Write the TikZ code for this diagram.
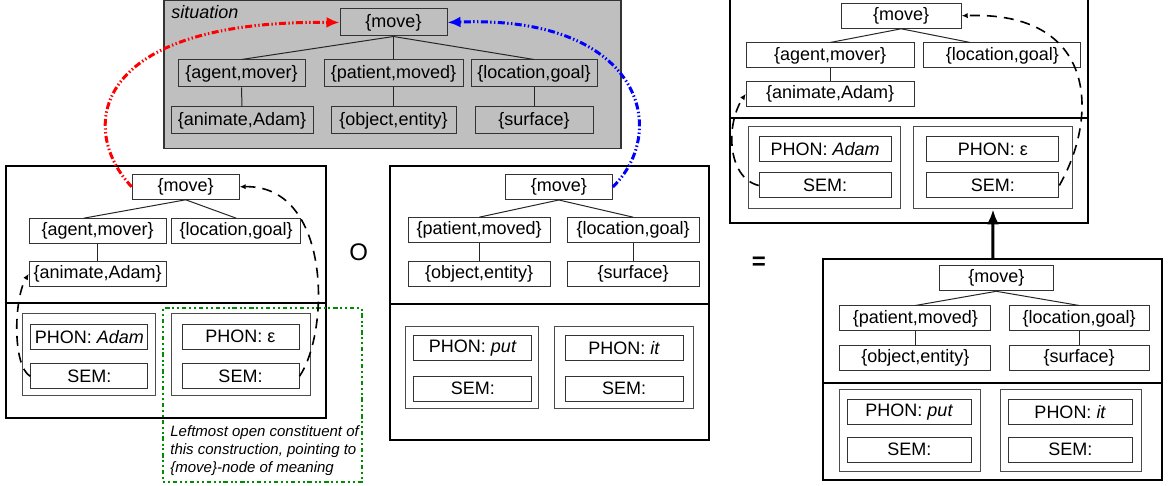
\documentclass[tikz,border=0pt]{standalone}
\usepackage{fontspec}
\setmainfont{Liberation Sans}
\usetikzlibrary{arrows.meta}

\newcommand{\featsize}{\fontsize{9}{10.5}\selectfont}

\begin{document}
\begin{tikzpicture}[x = 0.5pt, y = -0.5pt, font = \featsize,
	feat/.style = {draw = black!80, fill = white, line width = 0.5pt, inner sep = 0pt,
		minimum width = #1*0.5pt, minimum height = 12.5pt},
	sfeat/.style = {feat = #1, fill = none, minimum height = 13.5pt},
	cont/.style = {draw = black!70, line width = 0.5pt, inner sep = 0pt,
		minimum width = #1*0.5pt, minimum height = 41pt},
	cxn/.style 2 args = {draw, line width = 1pt, inner sep = 0pt,
		minimum width = #1*0.5pt, minimum height = #2*0.5pt},
	tree/.style = {black!85, line width = 0.5pt},
	link/.style = {line width = 0.8pt, dash pattern = on 5pt off 3.5pt,
		-{Latex[length = 3pt, width = 2.6pt]}},
	bind/.style = {line width = 1.5pt,
		dash pattern = on 3.5pt off 1.2pt on 0.7pt off 1.2pt on 0.7pt off 1.2pt,
		-{Latex[length = 6.5pt, width = 5.5pt]}}]

	\useasboundingbox (0, 0) rectangle (1168, 486);

	% Situation (meaning)

	\node (sit) [cxn = {457}{148}, draw = black!80, line width = 0.8pt, fill = black!25] at (392.5, 74.5) {};
	\node (sitlabel) [anchor = west, inner sep = 0pt, font = \featsize\itshape] at (171, 12) {situation};

	\node (smove) [sfeat = 107] at (393.5, 22.5) {\{move\}};
	\node (sagent) [sfeat = 127] at (241.5, 73.5) {\{agent,mover\}};
	\node (spatient) [sfeat = 139] at (393.5, 73.5) {\{patient,moved\}};
	\node (sloc) [sfeat = 126] at (534, 73.5) {\{location,goal\}};
	\node (sanimate) [sfeat = 142] at (242, 120.5) {\{animate,Adam\}};
	\node (sobject) [sfeat = 125] at (393.5, 120.5) {\{object,entity\}};
	\node (ssurface) [sfeat = 118] at (534, 120.5) {\{surface\}};

	\begin{scope}[tree]
		\draw (smove.south) -- (sagent.north);
		\draw (smove.south) -- (spatient.north);
		\draw (smove.south) -- (sloc.north);
		\draw (sagent.south) -- (sanimate.north);
		\draw (spatient.south) -- (sobject.north);
		\draw (sloc.south) -- (ssurface.north);
	\end{scope}

	% Construction "Adam"

	\node (lcxn) [cxn = {319.7}{252.6}] at (165.8, 292) {};
	\coordinate (ldiv) at (0, 302.7);
	\draw [line width = 1pt] (lcxn.west |- ldiv) -- (lcxn.east |- ldiv);

	\node (lmove) [feat = 107] at (185.7, 186.8) {\{move\}};
	\node (lagent) [feat = 137] at (97.7, 231.2) {\{agent,mover\}};
	\node (lloc) [feat = 129] at (236.2, 231.2) {\{location,goal\}};
	\node (lanimate) [feat = 137] at (97.7, 273.8) {\{animate,Adam\}};

	\node (lcont1) [cont = 133] at (88.7, 354.5) {};
	\node (lphon1) [feat = 117] at (89.3, 336.7) {PHON: \textit{Adam}};
	\node (lsem1) [feat = 117] at (89.3, 376.3) {SEM:};
	\node (lcont2) [cont = 139] at (240.5, 354.5) {};
	\node (lphon2) [feat = 117] at (240.5, 336.7) {PHON: ε};
	\node (lsem2) [feat = 117] at (240.5, 376.3) {SEM:};

	\begin{scope}[tree]
		\draw (lmove.south) -- ([xshift = -7pt] lagent.north);
		\draw (lmove.south) -- (lloc.north);
		\draw (lagent.south) -- (lanimate.north);
	\end{scope}

	% Construction "put it"

	\node (mcxn) [cxn = {319.3}{274.3}] at (549.7, 302.8) {};
	\coordinate (mdiv) at (0, 304);
	\draw [line width = 1pt] (mcxn.west |- mdiv) -- (mcxn.east |- mdiv);

	\node (mmove) [feat = 107] at (558.8, 187) {\{move\}};
	\node (mpatient) [feat = 142] at (479.2, 230.2) {\{patient,moved\}};
	\node (mloc) [feat = 132] at (633.2, 230.2) {\{location,goal\}};
	\node (mobject) [feat = 142] at (479.2, 274.2) {\{object,entity\}};
	\node (msurface) [feat = 132] at (633.2, 274.2) {\{surface\}};

	\node (mcont1) [cont = 133] at (472.3, 367.8) {};
	\node (mphon1) [feat = 118] at (472.8, 347.7) {PHON: \textit{put}};
	\node (msem1) [feat = 118] at (472.8, 388.7) {SEM:};
	\node (mcont2) [cont = 139] at (624.3, 367.8) {};
	\node (mphon2) [feat = 118] at (624.2, 347.7) {PHON: \textit{it}};
	\node (msem2) [feat = 118] at (624.2, 388.7) {SEM:};

	\begin{scope}[tree]
		\draw (mmove.south) -- (mpatient.north);
		\draw (mmove.south) -- (mloc.north);
		\draw (mpatient.south) -- (mobject.north);
		\draw (mloc.south) -- (msurface.north);
	\end{scope}

	% Operators

	\node (op) at (358.7, 252) {\fontsize{12}{14}\selectfont O};
	\node (eq) at (759, 263.5) {\fontsize{12}{14}\selectfont\bfseries =};

	% Result: "Adam" on top

	\node (rcxn) [cxn = {358.3}{240}] at (909.2, 103.3) {};
	\coordinate (rdiv) at (0, 118.3);
	\draw [line width = 1pt] (rcxn.west |- rdiv) -- (rcxn.east |- rdiv);

	\node (rmove) [feat = 120] at (901.2, 15.8) {\{move\}};
	\node (ragent) [feat = 168] at (830.2, 55.5) {\{agent,mover\}};
	\node (rloc) [feat = 157] at (1002.3, 55.5) {\{location,goal\}};
	\node (ranimate) [feat = 168] at (830.2, 93.8) {\{animate,Adam\}};

	\node (rcont1) [cont = 152] at (824.3, 167.8) {};
	\node (rphon1) [feat = 132] at (825.2, 149.5) {PHON: \textit{Adam}};
	\node (rsem1) [feat = 132] at (825.2, 185.5) {SEM:};
	\node (rcont2) [cont = 159] at (993, 167.8) {};
	\node (rphon2) [feat = 132] at (992.8, 149.5) {PHON: ε};
	\node (rsem2) [feat = 132] at (992.8, 185.5) {SEM:};

	\begin{scope}[tree]
		\draw (rmove.south) -- (ragent.north);
		\draw (rmove.south) -- ([xshift = -16pt] rloc.north);
		\draw (ragent.south) -- (ranimate.north);
	\end{scope}

	% Result: "put it" below

	\node (bcxn) [cxn = {339}{220.7}] at (992.8, 369.7) {};
	\coordinate (bdiv) at (0, 382.7);
	\draw [line width = 1pt] (bcxn.west |- bdiv) -- (bcxn.east |- bdiv);

	\node (bmove) [feat = 114] at (996.3, 278.3) {\{move\}};
	\node (bpatient) [feat = 151] at (915.3, 318.5) {\{patient,moved\}};
	\node (bloc) [feat = 140] at (1079.2, 318.5) {\{location,goal\}};
	\node (bobject) [feat = 151] at (915.3, 358.2) {\{object,entity\}};
	\node (bsurface) [feat = 140] at (1079.2, 358.2) {\{surface\}};

	\node (bcont1) [cont = 141] at (909.7, 430.8) {};
	\node (bphon1) [feat = 124] at (909.3, 411.8) {PHON: \textit{put}};
	\node (bsem1) [feat = 124] at (909.3, 449.5) {SEM:};
	\node (bcont2) [cont = 141] at (1070.7, 430.8) {};
	\node (bphon2) [feat = 124] at (1070.3, 411.8) {PHON: \textit{it}};
	\node (bsem2) [feat = 124] at (1070.3, 449.5) {SEM:};

	\begin{scope}[tree]
		\draw (bmove.south) -- (bpatient.north);
		\draw (bmove.south) -- (bloc.north);
		\draw (bpatient.south) -- (bobject.north);
		\draw (bloc.south) -- (bsurface.north);
	\end{scope}

	% Annotation

	\node (notebox) [draw = green!55!black, line width = 1pt, inner sep = 0pt,
		dash pattern = on 1pt off 1.4pt on 1pt off 1.4pt on 2.2pt off 1.4pt,
		minimum width = 198.4*0.5pt, minimum height = 173.4*0.5pt] at (262.5, 395) {};
	\node (note) [anchor = north west, inner sep = 0pt, align = left,
		font = \fontsize{7.5}{9}\selectfont\itshape] at (170, 425)
		{Leftmost open constituent of\\this construction, pointing to\\\{move\}-node of meaning};

	% Pointers from open constituents

	\draw [link] (lsem1.west) .. controls +(-18, -10) and +(-15, 25) .. (lanimate.west);
	\draw [link] (lsem2.east) .. controls +(31, -46) and +(91, -2) .. (lmove.east);
	\draw [link] (rsem1.west) .. controls +(-32, -8) and +(-20, 30) .. (ranimate.west);
	\draw [link] (rsem2.east) .. controls +(40, -70) and +(135, -5) .. (rmove.east);

	% Binding to the situation, result arrow

	\draw [bind, red] (lmove.west) .. controls +(-54, -57) and +(-250, -2.5) .. (smove.west);
	\draw [bind, blue] (mmove.east) .. controls +(58, -57) and +(193, -7.5) .. (smove.east);

	\draw [line width = 1.5pt, -{Latex[length = 7.5pt, width = 6pt]}] (bcxn.north) -- (rcont2.south);

\end{tikzpicture}
\end{document}
